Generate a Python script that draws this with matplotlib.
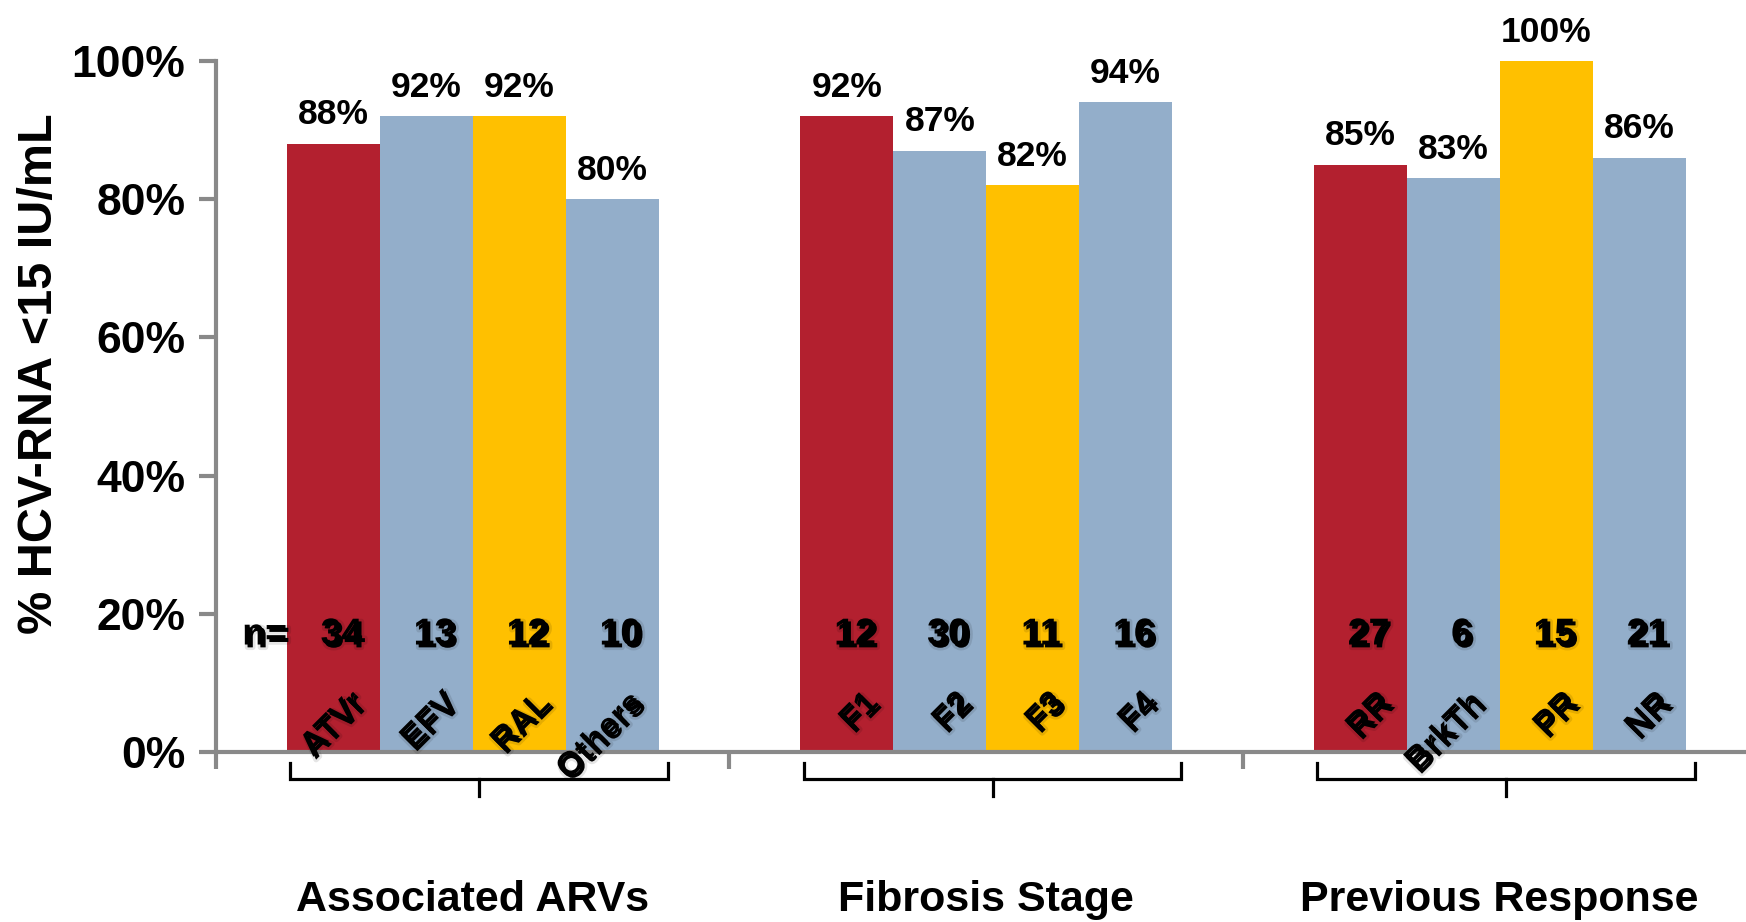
import numpy as np
import matplotlib.pyplot as plt
import matplotlib.patheffects as pe
from matplotlib.transforms import blended_transform_factory

plt.rcParams['font.family'] = ['Liberation Sans', 'DejaVu Sans']
plt.rcParams['font.weight'] = 'bold'

groups = ["Associated ARVs", "Fibrosis Stage", "Previous Response"]
bar_labels = [["ATVr", "EFV", "RAL", "Others"],
              ["F1", "F2", "F3", "F4"],
              ["RR", "BrkTh", "PR", "NR"]]
pct = [[88, 92, 92, 80],
       [92, 87, 82, 94],
       [85, 83, 100, 86]]
n_pts = [[34, 13, 12, 10],
         [12, 30, 11, 16],
         [27, 6, 15, 21]]
yticks = [0, 20, 40, 60, 80, 100]

red = "#B3202F"
blue = "#93AECA"
yellow = "#FFC000"
bar_colors = [red, blue, yellow, blue]
axis_grey = "#898989"

fig = plt.figure(figsize=(17.46, 9.22), dpi=100)
ax = fig.add_axes([0.1237, 0.1844, 0.8823, 0.7494])

w = 0.181
offsets = (np.arange(4) - 1.5) * w
# soft drop shadow for the in-bar labels
shadow = [pe.Stroke(linewidth=4, foreground=(0, 0, 0, 0.10), offset=(2, -2)),
          pe.SimplePatchShadow(offset=(2, -2), shadow_rgbFace="black", alpha=0.3),
          pe.Normal()]

for g in range(3):
    xs = g + offsets
    ax.bar(xs, pct[g], width=w, color=bar_colors, linewidth=0, zorder=2)
    for i, x in enumerate(xs):
        ax.annotate(f"{pct[g][i]}%", (x, pct[g][i]), xytext=(0, 9), textcoords="offset points",
                    ha="center", va="bottom", fontsize=25.5, fontweight="bold")
        ax.text(x + 0.016, 17.0, str(n_pts[g][i]), ha="center", va="center",
                fontsize=27, fontweight="bold", path_effects=shadow, zorder=4)
        ax.text(x + 0.052, 7.8, bar_labels[g][i], ha="right", va="center",
                rotation=45, rotation_mode="anchor", fontsize=24, fontweight="bold",
                path_effects=shadow, zorder=4, clip_on=False)

ax.text(offsets[0] - w / 2, 17.0, "n=", ha="right", va="center",
        fontsize=27, fontweight="bold", path_effects=shadow, zorder=4)

# brackets under each group
tr = blended_transform_factory(ax.transData, ax.transAxes)
for g in range(3):
    l, r = g - 0.355, g + 0.38
    c = (l + r) / 2
    ax.plot([l, l, r, r], [-0.016, -0.039, -0.039, -0.016], color="black", lw=2.3,
            transform=tr, clip_on=False, solid_joinstyle="miter")
    ax.plot([c, c], [-0.039, -0.064], color="black", lw=2.3, transform=tr, clip_on=False)
    ax.text(g, -0.214, groups[g], ha="center", va="center", fontsize=31,
            fontweight="bold", transform=tr)

ax.set_xlim(-0.5, 2.5)
ax.set_ylim(0, 100)
ax.set_yticks(yticks)
ax.set_yticklabels([f"{v}%" for v in yticks], fontsize=32, fontweight="bold")
ax.set_xticks([-0.5, 0.5, 1.5, 2.5])
ax.set_xticklabels([])
ax.tick_params(axis="both", direction="out", length=12, width=3, color=axis_grey, pad=10)
ax.set_ylabel("% HCV-RNA <15 IU/mL", fontsize=35, fontweight="bold")
ax.yaxis.set_label_coords(-0.100, 0.547)

for side in ["top", "right"]:
    ax.spines[side].set_visible(False)
for side in ["left", "bottom"]:
    ax.spines[side].set_color(axis_grey)
    ax.spines[side].set_linewidth(3)

fig.savefig("out.png", dpi=100)
